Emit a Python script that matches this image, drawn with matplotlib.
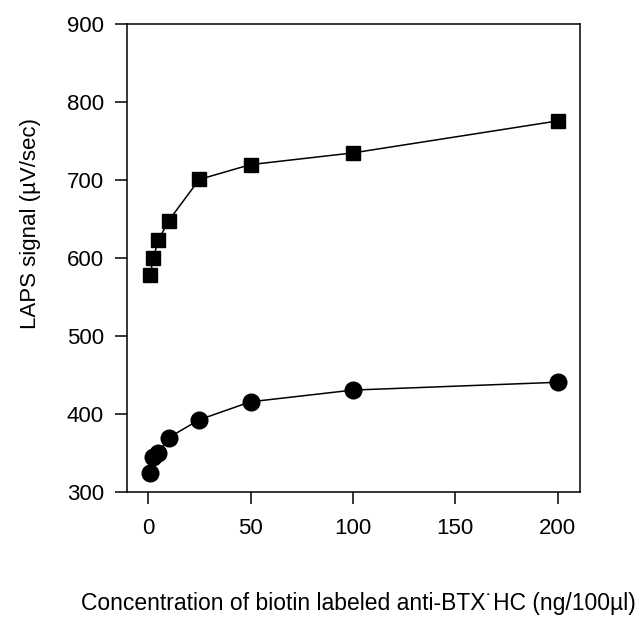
import matplotlib.pyplot as plt

plt.rcParams['font.family'] = ['Liberation Sans', 'DejaVu Sans']

conc = [1, 2.5, 5, 10, 25, 50, 100, 200]
sig_square = [578, 600, 623, 648, 701, 720, 735, 776]
sig_circle = [325, 345, 350, 370, 393, 416, 431, 441]

fig = plt.figure(figsize=(6.43, 6.2), dpi=100)
ax = fig.add_axes([0.1975, 0.206, 0.705, 0.755])
ax.plot(conc, sig_square, "-s", color="black", ms=10.5, lw=1.1)
ax.plot(conc, sig_circle, "-o", color="black", ms=12, lw=1.1)
ax.set_xlim(-10.3, 211)
ax.set_ylim(300, 900)
ax.set_xticks([0, 50, 100, 150, 200])
ax.set_yticks(range(300, 901, 100))
ax.tick_params(direction="out", length=8.5, width=1.1, labelsize=16)
ax.tick_params(axis="x", pad=10)
ax.tick_params(axis="y", pad=8)
for s in ax.spines.values():
    s.set_linewidth(1.1)
fig.text(0.048, 0.639, "LAPS signal (\u00b5V/sec)", rotation=90,
         ha="center", va="center", fontsize=16)
fig.text(0.5576, 0.026, "Concentration of biotin labeled anti-BTX\u02d9HC (ng/100\u00b5l)",
         ha="center", va="center", fontsize=16.5)
fig.savefig("out.png", dpi=100)
